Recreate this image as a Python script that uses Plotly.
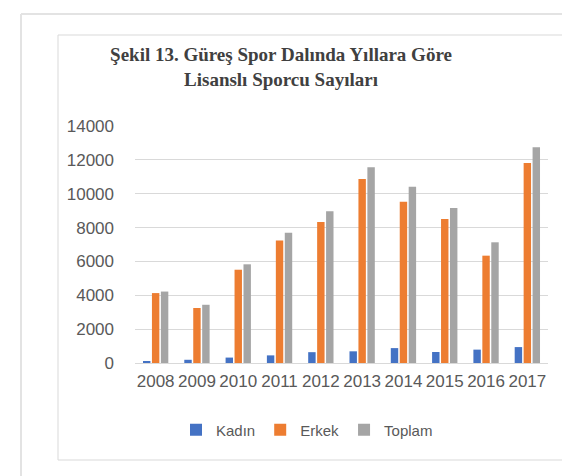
import plotly.graph_objects as go

years = ["2008", "2009", "2010", "2011", "2012", "2013", "2014", "2015", "2016", "2017"]
kadin = [90, 190, 320, 450, 640, 690, 880, 650, 790, 940]
erkek = [4130, 3250, 5510, 7240, 8330, 10870, 9530, 8500, 6340, 11810]
toplam = [4220, 3440, 5830, 7690, 8970, 11560, 10410, 9150, 7130, 12750]
y_ticks = [0, 2000, 4000, 6000, 8000, 10000, 12000, 14000]
y_tick_labels = ["0", "2000", "4000", "6000", "8000", "10000", "12000", "14000"]

W, H = 570, 476
L, R, T, B = 127, 30, 118, 121
PW, PH = W - L - R, H - T - B

def px(x):
    return (x - L) / PW

def py(y):
    return (H - B - y) / PH

fig = go.Figure()
for name, vals, col in [("Kadın", kadin, "#4472C4"), ("Erkek", erkek, "#ED7D31"), ("Toplam", toplam, "#A5A5A5")]:
    fig.add_trace(go.Bar(x=years, y=vals, name=name, marker=dict(color=col, line=dict(width=0))))

shapes = [
    dict(type="rect", xref="paper", yref="paper", x0=px(50), x1=px(563), y0=py(452), y1=py(27),
         line=dict(color="#d9d9d9", width=1), fillcolor="rgba(0,0,0,0)", layer="below"),
    dict(type="line", xref="paper", yref="paper", x0=px(13), x1=px(570), y0=py(6), y1=py(6),
         line=dict(color="#e3e3e3", width=2)),
    dict(type="line", xref="paper", yref="paper", x0=px(13), x1=px(13), y0=py(6), y1=py(476),
         line=dict(color="#e3e3e3", width=2)),
]

fig.update_layout(
    width=W, height=H,
    margin=dict(l=L, r=R, t=T, b=B, autoexpand=False),
    paper_bgcolor="white", plot_bgcolor="white",
    barmode="group", bargap=0.35, bargroupgap=0.17,
    title=dict(text="<b>Şekil 13. Güreş Spor Dalında Yıllara Göre<br>Lisanslı Sporcu Sayıları</b>",
               x=273 / W, xanchor="center", y=1 - 53 / H, yanchor="middle",
               font=dict(family="Liberation Serif", size=19, color="#404040")),
    font=dict(family="Liberation Sans", size=17, color="#595959"),
    xaxis=dict(showgrid=False, showline=True, linecolor="#d9d9d9", linewidth=1,
               ticks="", ticklabelstandoff=3, tickfont=dict(size=17, color="#595959")),
    yaxis=dict(range=[0, 14000], tickvals=y_ticks, ticktext=y_tick_labels,
               showgrid=True, gridcolor="#d9d9d9", gridwidth=1,
               zeroline=False, showline=False, ticks="", ticklabelstandoff=20,
               tickfont=dict(size=17, color="#595959")),
    legend=dict(orientation="h", x=px(168), xanchor="left", y=py(422), yanchor="middle",
                font=dict(size=15, color="#595959"), itemwidth=30, traceorder="normal",
                bgcolor="rgba(0,0,0,0)"),
    shapes=shapes,
    showlegend=True,
)

fig.write_html("out.html")
